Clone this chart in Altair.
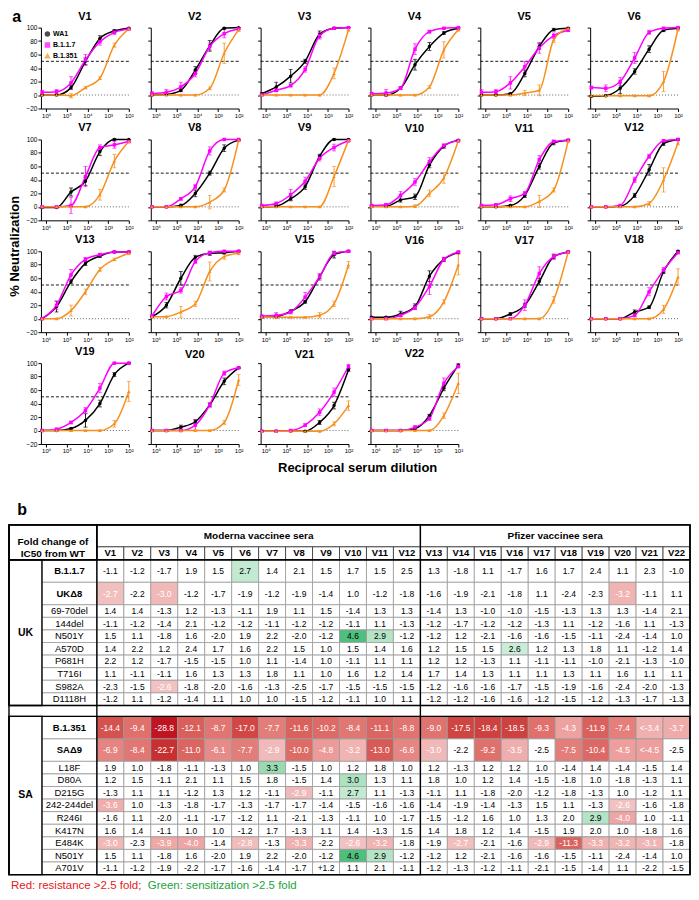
import math
import altair as alt
import pandas as pd

# ---------------- data: neutralization curves ----------------
SERA = [f"V{i}" for i in range(1, 23)]
VIRUSES = ["WA1", "B.1.1.7", "B.1.351"]
COLORS = ["#000000", "#ff00ff", "#f7901e"]
SHAPES = ["circle", "square", "triangle-up"]
DILUTIONS = [1562500, 312500, 62500, 12500, 2500, 500, 100]
X_TICKS = [100, 1000, 10000, 100000, 1000000]
Y_TICKS = [-20, 0, 20, 40, 60, 80, 100]
IC50_LINE = 50
ZERO_LINE = 0

wa1 = [
    [0, 0, 11, 50, 84, 95, 99], [0, 1, 7, 37, 73, 99, 100], [2, 12, 28, 50, 90, 99, 100],
    [0, 0, 10, 45, 72, 92, 99], [0, 0, 2, 32, 72, 97, 99], [-2, -1, 10, 35, 68, 96, 99],
    [-1, -1, 22, 38, 82, 100, 100], [0, 0, 2, 20, 50, 87, 99], [0, 1, 12, 30, 75, 100, 100],
    [1, 1, 10, 15, 62, 90, 99], [0, 0, 2, 17, 60, 95, 99], [0, 0, 1, 17, 55, 94, 100],
    [0, 18, 55, 82, 93, 99, 99], [3, 20, 60, 91, 97, 98, 100], [2, 3, 11, 25, 62, 95, 100],
    [2, 2, 7, 18, 63, 88, 98], [0, 0, 7, 20, 55, 92, 99], [0, 0, 0, 10, 17, 70, 100],
    [0, 0, 3, 15, 40, 83, 100], [0, 0, 5, 13, 38, 73, 93], [-1, -1, -1, -1, 12, 37, 90],
    [0, 0, 0, 3, 22, 63, 97],
]
b117 = [
    [4, 5, 18, 52, 79, 93, 98], [2, 4, 12, 32, 72, 91, 98], [0, 7, 14, 38, 88, 99, 100],
    [2, 3, 10, 68, 94, 99, 100], [4, 5, 18, 42, 70, 88, 96], [11, 10, 20, 55, 93, 99, 100],
    [0, 0, 2, 45, 88, 92, 97], [0, 0, 12, 30, 83, 100, 100], [2, 5, 18, 38, 72, 88, 98],
    [2, 3, 17, 37, 67, 91, 98], [2, 3, 12, 20, 70, 97, 99], [0, 0, 2, 40, 75, 98, 100],
    [0, 20, 65, 88, 95, 99, 99], [4, 33, 42, 85, 98, 100, 100], [4, 5, 10, 32, 62, 97, 100],
    [0, 0, 5, 17, 48, 88, 99], [0, 0, 0, 20, 67, 92, 99], [0, 0, 0, 5, 40, 72, 98],
    [0, 2, 12, 30, 63, 100, 100], [0, 0, 0, 8, 38, 85, 93], [-1, -1, 0, 8, 27, 57, 95],
    [0, 0, 0, 5, 18, 70, 95],
]
b1351 = [
    [0, 0, -1, 11, 25, 74, 98], [0, 0, 0, 0, 10, 62, 97], [0, 0, 0, 0, 0, 32, 97],
    [0, 0, 0, 0, 12, 67, 97], [0, 0, 0, 3, 7, 82, 99], [-1, -1, -1, -1, -1, 20, 98],
    [0, 0, 0, 0, 18, 68, 97], [0, 0, 0, 0, 7, 25, 99], [0, 0, 0, 0, 0, 45, 99],
    [0, 0, 0, 1, 20, 43, 98], [0, 0, 0, 0, 8, 25, 98], [0, 0, 0, 0, 5, 40, 95],
    [0, 0, 12, 40, 73, 88, 97], [3, 3, 10, 22, 70, 92, 97], [2, 2, 2, 2, 5, 22, 80],
    [0, 0, 0, 0, 3, 25, 80], [0, 0, 0, 0, 0, 28, 99], [0, 0, 0, 0, 0, 14, 62],
    [0, 0, 0, 0, 0, 10, 58], [0, 0, 0, 0, 0, 12, 75], [-1, -1, -1, -1, -1, 10, 37],
    [0, 0, 0, 0, 0, 22, 70],
]
wa1_err = [
    [0, 0, 3, 5, 4, 2, 1], [0, 1, 2, 5, 8, 1, 0], [1, 7, 10, 3, 5, 1, 0], [0, 0, 2, 8, 6, 2, 1],
    [0, 0, 1, 5, 4, 2, 1], [1, 1, 8, 4, 5, 2, 1], [1, 1, 6, 6, 6, 1, 0], [0, 0, 2, 5, 3, 5, 1],
    [0, 1, 3, 4, 3, 1, 0], [1, 1, 3, 4, 4, 3, 1], [0, 1, 1, 3, 4, 3, 1], [0, 0, 1, 3, 8, 3, 1],
    [1, 8, 3, 3, 2, 1, 1], [1, 4, 10, 3, 3, 2, 1], [1, 1, 2, 2, 3, 5, 1], [1, 1, 4, 4, 8, 3, 1],
    [1, 1, 2, 3, 5, 3, 1], [0, 0, 1, 3, 2, 3, 1], [1, 1, 1, 10, 5, 3, 1], [0, 1, 3, 3, 3, 5, 1],
    [0, 0, 0, 1, 3, 5, 2], [0, 0, 0, 1, 2, 4, 2],
]
b117_err = [
    [3, 3, 9, 8, 5, 3, 1], [3, 4, 7, 5, 5, 6, 1], [1, 2, 2, 4, 5, 1, 0], [2, 5, 2, 8, 2, 1, 0],
    [4, 3, 9, 8, 8, 4, 1], [2, 5, 6, 8, 3, 1, 0], [1, 1, 12, 15, 4, 5, 1], [0, 1, 2, 3, 6, 1, 0],
    [1, 2, 8, 6, 4, 5, 1], [1, 2, 6, 5, 6, 2, 1], [1, 2, 4, 3, 6, 2, 1], [0, 0, 1, 4, 3, 2, 1],
    [1, 6, 8, 3, 2, 1, 1], [1, 5, 4, 3, 2, 1, 1], [1, 4, 3, 7, 5, 3, 1], [1, 1, 2, 3, 12, 3, 1],
    [1, 1, 1, 8, 10, 4, 1], [0, 0, 1, 2, 6, 4, 1], [1, 1, 2, 4, 7, 1, 0], [1, 1, 1, 8, 3, 3, 1],
    [0, 0, 1, 2, 5, 6, 3], [0, 0, 1, 2, 3, 8, 2],
]
b1351_err = [
    [1, 1, 3, 2, 2, 3, 2], [1, 1, 1, 1, 2, 15, 3], [1, 1, 1, 1, 1, 8, 2], [1, 1, 1, 1, 2, 12, 2],
    [1, 1, 1, 4, 8, 4, 1], [1, 1, 1, 1, 1, 15, 3], [1, 1, 1, 1, 8, 10, 2], [1, 1, 1, 1, 10, 3, 2],
    [1, 1, 1, 1, 1, 15, 2], [1, 1, 1, 2, 5, 8, 2], [1, 1, 1, 1, 9, 3, 2], [1, 1, 1, 1, 3, 18, 3],
    [1, 1, 8, 4, 3, 2, 2], [1, 1, 8, 4, 14, 4, 2], [1, 1, 1, 1, 4, 4, 5], [1, 1, 1, 1, 3, 3, 15],
    [1, 1, 1, 1, 1, 5, 2], [1, 1, 1, 1, 1, 6, 12], [1, 1, 1, 1, 1, 5, 15], [1, 1, 1, 1, 1, 3, 8],
    [1, 1, 1, 1, 1, 3, 7], [1, 1, 1, 1, 1, 4, 15],
]

# ---------------- data: fold-change table ----------------
uk_names = ["B.1.1.7", "UKΔ8", "69-70del", "144del", "N501Y", "A570D", "P681H", "T716I", "S982A", "D1118H"]
uk_vals = [
    ["-1.1", "-1.2", "-1.7", "1.9", "1.5", "2.7", "1.4", "2.1", "1.5", "1.7", "1.5", "2.5", "1.3", "-1.8", "1.1", "-1.7", "1.6", "1.7", "2.4", "1.1", "2.3", "-1.0"],
    ["-2.7", "-2.2", "-3.0", "-1.2", "-1.7", "-1.9", "-1.2", "-1.9", "-1.4", "1.0", "-1.2", "-1.8", "-1.6", "-1.9", "-2.1", "-1.8", "1.1", "-2.4", "-2.3", "-3.2", "-1.1", "1.1"],
    ["1.4", "1.4", "-1.3", "1.2", "-1.3", "-1.1", "1.9", "1.1", "1.5", "-1.4", "1.3", "1.3", "-1.4", "1.3", "-1.0", "-1.0", "-1.5", "-1.3", "1.3", "1.3", "-1.4", "2.1"],
    ["-1.1", "-1.2", "-1.4", "2.1", "-1.2", "-1.2", "-1.1", "-1.2", "-1.2", "-1.1", "1.1", "-1.3", "-1.2", "-1.7", "-1.2", "-1.2", "-1.3", "1.1", "-1.2", "-1.6", "1.1", "-1.3"],
    ["1.5", "1.1", "-1.8", "1.6", "-2.0", "1.9", "2.2", "-2.0", "-1.2", "4.6", "2.9", "-1.2", "-1.2", "1.2", "-2.1", "-1.6", "-1.6", "-1.5", "-1.1", "-2.4", "-1.4", "1.0"],
    ["1.4", "2.2", "1.2", "2.4", "1.7", "1.6", "2.2", "1.5", "1.0", "1.5", "1.4", "1.6", "1.2", "1.5", "1.5", "2.6", "1.2", "1.3", "1.8", "1.1", "-1.2", "1.4"],
    ["2.2", "1.2", "-1.7", "-1.5", "-1.5", "1.0", "1.1", "-1.4", "1.0", "-1.1", "1.1", "1.1", "1.2", "1.2", "-1.3", "1.1", "-1.1", "-1.1", "-1.0", "-2.1", "-1.3", "-1.0"],
    ["1.1", "-1.1", "-1.1", "1.6", "1.3", "1.3", "1.8", "1.1", "1.0", "1.6", "1.2", "1.4", "1.7", "1.4", "1.3", "1.1", "1.1", "1.3", "1.1", "1.6", "1.1", "1.1"],
    ["-2.3", "-1.5", "-2.6", "-1.8", "-2.0", "-1.6", "-1.3", "-2.5", "-1.7", "-1.5", "-1.5", "-1.5", "-1.2", "-1.6", "-1.6", "-1.7", "-1.5", "-1.9", "-1.6", "-2.4", "-2.0", "-1.3"],
    ["-1.2", "1.1", "-1.2", "-1.4", "1.1", "1.0", "1.0", "-1.5", "-1.2", "-1.1", "1.0", "1.1", "-1.2", "-1.2", "-1.6", "-1.6", "-1.2", "-1.5", "-1.2", "-1.3", "-1.7", "-1.3"],
]
sa_names = ["B.1.351", "SAΔ9", "L18F", "D80A", "D215G", "242-244del", "R246I", "K417N", "E484K", "N501Y", "A701V"]
sa_vals = [
    ["-14.4", "-9.4", "-28.8", "-12.1", "-8.7", "-17.0", "-7.7", "-11.6", "-10.2", "-8.4", "-11.1", "-8.8", "-9.0", "-17.5", "-18.4", "-18.5", "-9.3", "-4.3", "-11.9", "-7.4", "<-3.4", "-3.7"],
    ["-6.9", "-8.4", "-22.7", "-11.0", "-6.1", "-7.7", "-2.9", "-10.0", "-4.8", "-3.2", "-13.0", "-6.6", "-3.0", "-2.2", "-9.2", "-3.5", "-2.5", "-7.5", "-10.4", "-4.5", "<-4.5", "-2.5"],
    ["1.9", "1.0", "-1.8", "-1.1", "-1.3", "1.0", "3.3", "-1.5", "1.0", "1.2", "1.8", "1.0", "1.2", "-1.3", "1.2", "1.2", "1.0", "-1.4", "1.4", "-1.4", "-1.5", "1.4"],
    ["1.2", "1.5", "-1.1", "2.1", "1.1", "1.5", "1.8", "-1.5", "1.4", "3.0", "1.3", "1.1", "1.8", "1.0", "1.2", "1.4", "-1.5", "-1.8", "1.0", "-1.8", "-1.3", "1.1"],
    ["-1.3", "1.1", "1.1", "-1.2", "1.3", "1.2", "-1.1", "-2.9", "-1.1", "2.7", "1.1", "-1.3", "-1.1", "1.1", "-1.8", "-2.0", "-1.2", "-1.8", "-1.3", "1.0", "-1.2", "1.1"],
    ["-3.6", "1.0", "-1.3", "-1.8", "-1.7", "-1.3", "-1.7", "-1.7", "-1.4", "-1.5", "-1.6", "-1.6", "-1.4", "-1.9", "-1.4", "-1.3", "1.5", "1.1", "-1.3", "-2.6", "-1.6", "-1.8"],
    ["-1.6", "1.1", "-2.0", "-1.1", "-1.7", "-1.2", "1.1", "-2.1", "-1.3", "-1.1", "1.0", "-1.7", "-1.5", "-1.2", "1.6", "1.0", "1.3", "2.0", "2.9", "-4.0", "1.0", "-1.1"],
    ["1.6", "1.4", "-1.1", "1.0", "1.0", "-1.2", "1.7", "-1.3", "1.1", "1.4", "-1.3", "1.5", "1.4", "1.8", "1.2", "1.4", "-1.5", "1.9", "2.0", "1.0", "-1.8", "1.6"],
    ["-3.0", "-2.3", "-3.9", "-4.0", "-1.4", "-2.8", "-1.3", "-3.3", "-2.2", "-2.6", "-3.2", "-1.8", "-1.9", "-2.7", "-2.1", "-1.6", "-2.9", "-11.3", "-3.3", "-3.2", "-3.1", "-1.8"],
    ["1.5", "1.1", "-1.8", "1.6", "-2.0", "1.9", "2.2", "-2.0", "-1.2", "4.6", "2.9", "-1.2", "-1.2", "1.2", "-2.1", "-1.6", "-1.6", "-1.5", "-1.1", "-2.4", "-1.4", "1.0"],
    ["-1.1", "-1.2", "-1.9", "-2.2", "-1.7", "-1.6", "-1.4", "-1.7", "+1.2", "1.1", "2.1", "-1.1", "-1.2", "-1.3", "-1.2", "-1.1", "-2.1", "-1.5", "-1.4", "1.1", "-2.2", "-1.5"],
]
BIG_ROWS = {"B.1.1.7", "UKΔ8", "B.1.351", "SAΔ9"}
N_MODERNA = 12
THRESH = 2.5

FONT = "Liberation Sans"

# ---------------- part a: curve panels ----------------
rows = []
for p, s in enumerate(SERA):
    for v, (vals, errs) in enumerate([(wa1, wa1_err), (b117, b117_err), (b1351, b1351_err)]):
        for d, val, e in zip(DILUTIONS, vals[p], errs[p]):
            rows.append(dict(panel=s, virus=VIRUSES[v], dil=d, neut=val, lo=val - e, hi=val + e))
curves = pd.DataFrame(rows)

XLABEL = "'10' + ['²','³','⁴','⁵','⁶'][round(log(datum.value)/LN10) - 2]"
PW, PH = 88, 81
ROW_GAP, COL_GAP = 31, 22
LEFT_EXTENT = 32  # width taken by y labels + "% Neutralization" left of the first column
xscale = alt.Scale(type="log", domain=[100, 1778279], reverse=True, nice=False)
yscale = alt.Scale(domain=[-20, 100], nice=False, zero=False)


def panel(i):
    s = SERA[i]
    col = i % 6
    d = curves[curves["panel"] == s]
    ax_kw = dict(values=Y_TICKS, grid=False, tickSize=3, labels=(col == 0), labelFontSize=6.5,
                 labelPadding=1, labelOverlap=False, labelFlush=False, labelBound=False,
                 domainColor="black", tickColor="black", labelColor="black")
    if i == 6:
        ax_kw.update(title="% Neutralization", titleX=-19, titleY=PH + ROW_GAP / 2 + 10, titleFontSize=13,
                     titleFontWeight="bold", titleAngle=270, titleAlign="center", titleBaseline="bottom")
    else:
        ax_kw.update(title=None)
    yax = alt.Axis(**ax_kw)
    xax = alt.Axis(values=X_TICKS, labelExpr=XLABEL, title=None, grid=False, tickSize=3,
                   labelFontSize=6, labelPadding=1, domainColor="black", tickColor="black",
                   labelColor="black", labelFlush=False, labelOverlap=False)
    x = alt.X("dil:Q", scale=xscale, axis=xax)
    if i == 0:
        leg = alt.Legend(orient="top-left", title=None, labelFontSize=7, labelFontWeight="bold",
                         symbolSize=16, rowPadding=0, offset=3, labelOffset=2, padding=0)
    else:
        leg = None
    color = alt.Color("virus:N", scale=alt.Scale(domain=VIRUSES, range=COLORS), legend=leg)
    shape = alt.Shape("virus:N", scale=alt.Scale(domain=VIRUSES, range=SHAPES), legend=leg)

    base = alt.Chart(d)
    half = alt.Chart(pd.DataFrame({"neut": [IC50_LINE]})).mark_rule(
        strokeDash=[3, 2], color="black", strokeWidth=0.9).encode(y=alt.Y("neut:Q", scale=yscale, axis=yax))
    zero = alt.Chart(pd.DataFrame({"neut": [ZERO_LINE]})).mark_rule(
        strokeDash=[1, 2], color="#555555", strokeWidth=0.9).encode(y=alt.Y("neut:Q", scale=yscale, axis=yax))
    bars = base.mark_rule(strokeWidth=0.9).encode(
        x=x, y=alt.Y("lo:Q", scale=yscale, axis=yax), y2="hi:Q", color=color)
    caps = base.transform_fold(["lo", "hi"], as_=["k", "e"]).mark_tick(
        orient="horizontal", size=4, thickness=0.9).encode(
        x=x, y=alt.Y("e:Q", scale=yscale, axis=yax), color=color)
    line = base.mark_line(interpolate="monotone", strokeWidth=1.5).encode(
        x=x, y=alt.Y("neut:Q", scale=yscale, axis=yax), color=color)
    pts = base.mark_point(filled=True, size=12, opacity=1).encode(
        x=x, y=alt.Y("neut:Q", scale=yscale, axis=yax), color=color, shape=shape)
    return alt.layer(half, zero, bars, caps, line, pts).properties(
        width=PW, height=PH,
        title=alt.TitleParams(s, fontSize=11, fontWeight="bold", offset=3, font=FONT))


top = alt.concat(
    *[panel(i) for i in range(len(SERA))], columns=6,
    spacing={"row": ROW_GAP, "column": COL_GAP}, bounds="flush",
    title=alt.TitleParams("Reciprocal serum dilution", orient="bottom", anchor="middle",
                          fontSize=13, fontWeight="bold", offset=8, dx=12, font=FONT),
).resolve_scale(color="independent", shape="independent").resolve_legend(
    color="independent", shape="independent")

# ---------------- part b: table ----------------
GROUP_W, NAME_W, CELL_W = 33, 55, 27
H_HEAD1, H_HEAD2, H_BIG, H_SMALL, H_GAP = 22, 13, 22.5, 12.6, 11
X0 = GROUP_W + NAME_W
TW = X0 + CELL_W * len(SERA)
HH = H_HEAD1 + H_HEAD2


def num(t):
    return float(t.replace("<", "").replace("+", ""))


def score(v):
    if v < -THRESH:
        return -math.log(-v)
    if v > THRESH:
        return math.log(v)
    return 0.0


cells, names, groups, frames = [], [], [], []
y = HH
for gname, vnames, vvals in [("UK", uk_names, uk_vals), ("SA", sa_names, sa_vals)]:
    y_start = y
    for n, vals in zip(vnames, vvals):
        h = H_BIG if n in BIG_ROWS else H_SMALL
        names.append(dict(label=n, x=GROUP_W, x2=X0, y=y, y2=y + h, xc=GROUP_W + NAME_W / 2,
                          yc=y + h / 2, big=(n in BIG_ROWS)))
        for j, t in enumerate(vals):
            v = num(t)
            cells.append(dict(label=t, s=score(v), x=X0 + j * CELL_W, x2=X0 + (j + 1) * CELL_W,
                              y=y, y2=y + h, xc=X0 + (j + 0.5) * CELL_W, yc=y + h / 2))
        y += h
    groups.append(dict(label=gname, x=0, x2=GROUP_W, y=y_start, y2=y, xc=GROUP_W / 2, yc=(y_start + y) / 2))
    frames.append(dict(x=0, x2=TW, y=y_start, y2=y))
    frames.append(dict(x=0, x2=GROUP_W, y=y_start, y2=y))
    if gname == "UK":
        y += H_GAP
TH = y
FOOT_H = 17
frames += [
    dict(x=0, x2=TW, y=0, y2=TH),
    dict(x=0, x2=TW, y=0, y2=HH),
    dict(x=0, x2=X0, y=0, y2=HH),
    dict(x=X0, x2=X0 + N_MODERNA * CELL_W, y=0, y2=TH),
]
heads = [
    dict(label="Fold change of\nIC50 from WT", x=0, x2=X0, y=0, y2=HH, xc=X0 / 2, yc=HH / 2, large=True),
    dict(label="Moderna vaccinee sera", x=X0, x2=X0 + N_MODERNA * CELL_W, y=0, y2=H_HEAD1,
         xc=X0 + N_MODERNA * CELL_W / 2, yc=H_HEAD1 / 2, large=True),
    dict(label="Pfizer vaccinee sera", x=X0 + N_MODERNA * CELL_W, x2=TW, y=0, y2=H_HEAD1,
         xc=(X0 + N_MODERNA * CELL_W + TW) / 2, yc=H_HEAD1 / 2, large=True),
]
for j, s in enumerate(SERA):
    heads.append(dict(label=s, x=X0 + j * CELL_W, x2=X0 + (j + 1) * CELL_W, y=H_HEAD1, y2=HH,
                      xc=X0 + (j + 0.5) * CELL_W, yc=H_HEAD1 + H_HEAD2 / 2, large=False))
foot = pd.DataFrame([
    dict(label="Red: resistance >2.5 fold;", x=2, y=TH + 11, c="red"),
    dict(label="Green: sensitization >2.5 fold", x=139, y=TH + 11, c="green"),
])

cells_df, names_df, groups_df = pd.DataFrame(cells), pd.DataFrame(names), pd.DataFrame(groups)
heads_df, frames_df = pd.DataFrame(heads), pd.DataFrame(frames)

# the table starts LEFT_EXTENT px left of the panel grid's origin so both share the same left edge
tx = alt.Scale(domain=[LEFT_EXTENT, TW], nice=False, zero=False)
ty = alt.Scale(domain=[0, TH + FOOT_H], nice=False, zero=False, reverse=True)


def rect_enc():
    return dict(x=alt.X("x:Q", scale=tx, axis=None), x2="x2:Q",
                y=alt.Y("y:Q", scale=ty, axis=None), y2="y2:Q")


def text_enc():
    return dict(x=alt.X("xc:Q", scale=tx, axis=None), y=alt.Y("yc:Q", scale=ty, axis=None),
                text="label:N")


fill_scale = alt.Scale(domain=[-3.22, -0.94, -0.93, 0.93, 0.94, 1.53],
                       range=["#c4262a", "#f2c2c2", "#ffffff", "#ffffff", "#cdeed9", "#4fbf7c"])

head_rects = alt.Chart(heads_df).mark_rect(fill="white", stroke="#333333", strokeWidth=0.8).encode(**rect_enc())
head_text_l = alt.Chart(heads_df[heads_df["large"]]).mark_text(
    fontWeight="bold", lineBreak="\n", font=FONT, fontSize=10).encode(**text_enc())
head_text_s = alt.Chart(heads_df[~heads_df["large"]]).mark_text(
    fontWeight="bold", font=FONT, fontSize=9.5).encode(**text_enc())
name_rects = alt.Chart(names_df).mark_rect(fill="white", stroke="#999999", strokeWidth=0.8).encode(**rect_enc())
name_text_b = alt.Chart(names_df[names_df["big"]]).mark_text(
    font=FONT, fontSize=9.5, fontWeight="bold").encode(**text_enc())
name_text_n = alt.Chart(names_df[~names_df["big"]]).mark_text(
    font=FONT, fontSize=9.5).encode(**text_enc())
group_rects = alt.Chart(groups_df).mark_rect(fill="white").encode(**rect_enc())
group_text = alt.Chart(groups_df).mark_text(font=FONT, fontSize=10.5, fontWeight="bold").encode(**text_enc())
cell_rects = alt.Chart(cells_df).mark_rect(stroke="#9a9a9a", strokeWidth=0.8).encode(
    **rect_enc(), fill=alt.Fill("s:Q", scale=fill_scale, legend=None))
cell_text = alt.Chart(cells_df).mark_text(font=FONT, fontSize=8.5).encode(
    **text_enc(), color=alt.condition("datum.s < -0.9", alt.value("white"), alt.value("black")))
frame_rects = alt.Chart(frames_df).mark_rect(fillOpacity=0, stroke="black", strokeWidth=1.4).encode(**rect_enc())
foot_text = alt.Chart(foot).mark_text(font=FONT, fontSize=11.5, align="left").encode(
    x=alt.X("x:Q", scale=tx, axis=None), y=alt.Y("y:Q", scale=ty, axis=None), text="label:N",
    color=alt.Color("c:N", scale=alt.Scale(domain=["red", "green"], range=["#e3201b", "#22a33c"]), legend=None))

table = alt.layer(head_rects, name_rects, group_rects, cell_rects, frame_rects,
                  head_text_l, head_text_s, name_text_b, name_text_n, group_text, cell_text,
                  foot_text).properties(
    width=TW - LEFT_EXTENT, height=TH + FOOT_H,
    title=alt.TitleParams("b", anchor="start", fontSize=16, fontWeight="bold", dx=9, offset=6, font=FONT))

chart = alt.vconcat(top, table, spacing=27).properties(
    padding=0,
    title=alt.TitleParams("a", anchor="start", fontSize=16, fontWeight="bold", dx=4, offset=-14, font=FONT),
).configure(font=FONT).configure_view(stroke=None).configure_axis(
    labelFont=FONT, titleFont=FONT).configure_legend(labelFont=FONT).configure_title(color="black")

chart.save("out.html", embed_options={"renderer": "svg", "actions": False})
